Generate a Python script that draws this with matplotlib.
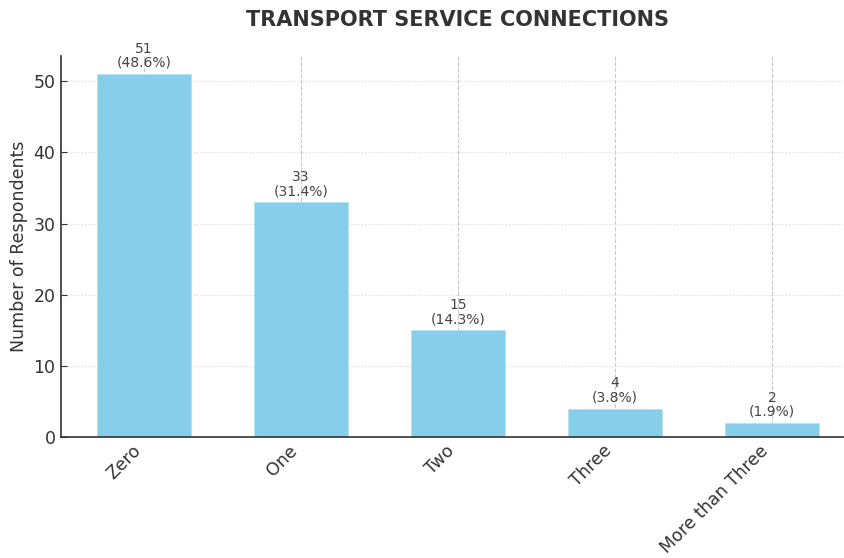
import matplotlib
matplotlib.use("Agg")
import matplotlib.pyplot as plt

plt.rcParams["font.family"] = ["DejaVu Sans"]

categories = ["Zero", "One", "Two", "Three", "More than Three"]
counts = [51, 33, 15, 4, 2]
percents = [48.6, 31.4, 14.3, 3.8, 1.9]

fig = plt.figure(figsize=(8.44, 5.58), dpi=100)
ax = fig.add_axes([0.0723, 0.2168, 0.9408, 0.6828])

x = list(range(len(categories)))
bars = ax.bar(x, counts, width=0.6, color="#87CEEB", edgecolor="#b8e2f4",
              linewidth=0.6, zorder=2)

for xi, c, p in zip(x, counts, percents):
    ax.annotate(f"{c}\n({p}%)", xy=(xi, c), xytext=(0, 3),
                textcoords="offset points", ha="center", va="bottom",
                fontsize=10, color="#444444", linespacing=1.0, zorder=3)

ax.set_xticks(x)
ax.set_xticklabels(categories, rotation=45, ha="right", fontsize=12.5,
                   color="#333333")
ax.tick_params(axis="x", length=0, pad=3.5)
ax.tick_params(axis="y", direction="in", length=4, labelsize=12.5,
               labelcolor="#333333", color="#333333", pad=4)
ax.set_ylabel("Number of Respondents", fontsize=12.5, color="#333333", labelpad=4)
ax.set_ylim(0, 53.55)
ax.set_yticks([0, 10, 20, 30, 40, 50])

ax.xaxis.grid(True, linestyle="--", color="#c8c8c8", linewidth=0.8, zorder=0)
ax.yaxis.grid(True, linestyle=":", color="#d8d8d8", linewidth=0.8, zorder=0)
ax.set_axisbelow(True)

for s in ["top", "right"]:
    ax.spines[s].set_visible(False)
for s in ["left", "bottom"]:
    ax.spines[s].set_color("#333333")
    ax.spines[s].set_linewidth(1.2)

fig.text(0.542, 0.965, "TRANSPORT SERVICE CONNECTIONS", ha="center", va="center",
         fontsize=15, fontweight="bold", color="#333333")

fig.savefig("out.png", dpi=100)
